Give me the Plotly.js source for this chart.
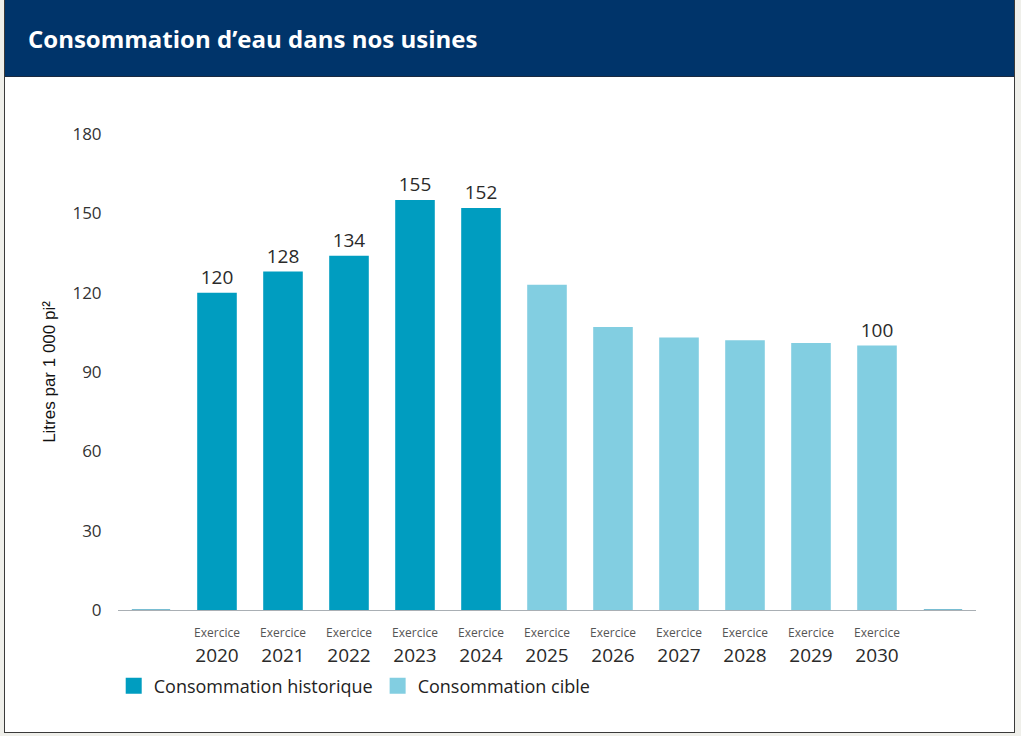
<!DOCTYPE html>
<html>
<head>
<meta charset="utf-8">
<script src="https://cdn.plot.ly/plotly-3.0.1.min.js"></script>
<style>
  html, body { margin: 0; padding: 0; width: 1021px; height: 736px; background: #efefea; overflow: hidden; }
  #frame { position: absolute; left: 4px; top: -1px; width: 1011px; height: 734px; border: 1px solid #3a3a3a; background: #ffffff; box-sizing: border-box; }
  #band { position: absolute; left: 0; top: 0; width: 100%; height: 77px; background: #00346a; border-bottom: 1px solid #1a2a40; box-sizing: border-box; }
  #chart { position: absolute; left: 0; top: 0; width: 1021px; height: 736px; }
</style>
</head>
<body>
<div id="frame"><div id="band"></div></div>
<div id="chart"></div>
<script>
// ---- data ----
const years = ["2020", "2021", "2022", "2023", "2024", "2025", "2026", "2027", "2028", "2029", "2030"];
const historicYears = ["2020", "2021", "2022", "2023", "2024"];
const historicValues = [120, 128, 134, 155, 152];
const historicLabels = ["120", "128", "134", "155", "152"];
const targetYears = ["2025", "2026", "2027", "2028", "2029", "2030"];
const targetValues = [123, 107, 103, 102, 101, 100];
const targetLabels = ["", "", "", "", "", "100"];
const emptySlots = [-1, 11];
const emptyValues = [0, 0];
const tickPrefix = "Exercice";
const yTicks = [0, 30, 60, 90, 120, 150, 180];
const seriesNames = ["Consommation historique", "Consommation cible"];
const titleText = "Consommation d’eau dans nos usines";
const yTitle = "Litres par 1 000 pi²";

const darkColor = "#009dc0";
const lightColor = "#82cee1";
const FONT = "'Open Sans', sans-serif";

const idx = y => years.indexOf(y);

const traces = [
  {
    type: "bar", x: emptySlots, y: emptyValues, width: 0.58,
    marker: { color: darkColor, line: { color: "#4aa6c2", width: 1 } },
    showlegend: false, hoverinfo: "skip"
  },
  {
    type: "bar", name: seriesNames[0],
    x: historicYears.map(idx), y: historicValues, width: 0.6,
    text: historicLabels, textposition: "outside", cliponaxis: false,
    textfont: { family: FONT, size: 19, color: "#2a2a2a" },
    marker: { color: darkColor }, showlegend: false
  },
  {
    type: "bar", name: seriesNames[1],
    x: targetYears.map(idx), y: targetValues, width: 0.6,
    text: targetLabels, textposition: "outside", cliponaxis: false,
    textfont: { family: FONT, size: 19, color: "#2a2a2a" },
    marker: { color: lightColor }, showlegend: false
  },
  {
    type: "scatter", mode: "markers", name: seriesNames[0], x: [null], y: [null],
    marker: { symbol: "square", size: 24, color: darkColor }, hoverinfo: "skip"
  },
  {
    type: "scatter", mode: "markers", name: seriesNames[1], x: [null], y: [null],
    marker: { symbol: "square", size: 24, color: lightColor }, hoverinfo: "skip"
  }
];

const layout = {
  width: 1021, height: 736,
  paper_bgcolor: "rgba(0,0,0,0)", plot_bgcolor: "rgba(0,0,0,0)",
  margin: { l: 118, r: 45, t: 134, b: 126 },
  barmode: "overlay",
  font: { family: FONT, color: "#2a2a2a" },
  title: {
    text: "<b>" + titleText + "</b>",
    x: 28 / 1021, xanchor: "left", xref: "container",
    y: 1 - 40 / 736, yanchor: "middle", yref: "container",
    font: { family: FONT, size: 24, color: "#ffffff" }
  },
  xaxis: {
    range: [-1.5, 11.5], fixedrange: true,
    tickmode: "array",
    tickvals: years.map(idx),
    ticktext: years.map(y => "<span style='font-size:12px;fill:#555'>" + tickPrefix + "</span><br>" + y),
    tickfont: { family: FONT, size: 19, color: "#2a2a2a" },
    ticks: "outside", ticklen: 3, tickcolor: "rgba(0,0,0,0)",
    showline: true, linecolor: "#a9afb4", linewidth: 1,
    showgrid: false, zeroline: false
  },
  yaxis: {
    range: [0, 180], fixedrange: true,
    tickmode: "array", tickvals: yTicks,
    tickfont: { family: FONT, size: 17, color: "#333333" },
    ticks: "outside", ticklen: 12, tickcolor: "rgba(0,0,0,0)",
    showgrid: false, zeroline: false, showline: false,
    title: { text: yTitle, standoff: 12, font: { family: "'Liberation Sans', Arial, sans-serif", size: 17, color: "#111111" } }
  },
  legend: {
    orientation: "h", x: -0.005, xanchor: "left", y: -0.16, yanchor: "middle",
    font: { family: FONT, size: 18, color: "#222222" },
    itemsizing: "trace", itemwidth: 30, tracegroupgap: 0,
    bgcolor: "rgba(0,0,0,0)"
  },
  showlegend: true
};

Plotly.newPlot("chart", traces, layout, { displayModeBar: false, staticPlot: true });
</script>
</body>
</html>
